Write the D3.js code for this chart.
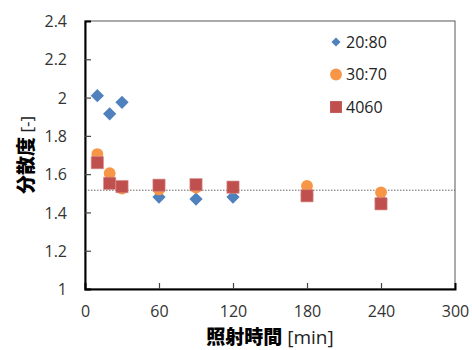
<!DOCTYPE html>
<html><head><meta charset="utf-8">
<script src="https://cdn.jsdelivr.net/npm/d3@7/dist/d3.min.js"></script>
<style>body{margin:0;background:#fff}svg{display:block}</style>
</head><body>
<svg id="c" width="472" height="350"></svg>
<script>
const times = [10, 20, 30, 60, 90, 120, 180, 240];
const s2080 = [2.01, 1.915, 1.975, 1.48, 1.47, 1.48, 1.49, 1.465];
const s3070 = [1.705, 1.605, 1.525, 1.52, 1.53, 1.53, 1.538, 1.505];
const s4060 = [1.66, 1.552, 1.535, 1.542, 1.545, 1.532, 1.487, 1.445];
const seriesNames = ["20:80", "30:70", "4060"];
const refLine = 1.516;
const xTicks = [0, 60, 120, 180, 240, 300];
const yTicks = [1, 1.2, 1.4, 1.6, 1.8, 2, 2.2, 2.4];

const svg = d3.select("#c");
const L = 85, R = 455, T = 21, B = 289;
const x = d3.scaleLinear().domain([0, 300]).range([L, R]);
const y = d3.scaleLinear().domain([1, 2.4]).range([B, T]);
const font = "'Open Sans','Noto Sans',sans-serif";
const colors = ["#4F81BD", "#F79646", "#C0504D"];

svg.append("rect").attr("x", L).attr("y", T).attr("width", R - L).attr("height", B - T)
  .attr("fill", "none").attr("stroke", "#595959").attr("stroke-width", 1);

svg.append("line").attr("x1", L).attr("x2", R).attr("y1", y(refLine)).attr("y2", y(refLine))
  .attr("stroke", "#444").attr("stroke-width", 0.8).attr("stroke-dasharray", "1.5,1.5");

const yAxis = d3.axisLeft(y).tickValues(yTicks).tickSize(-6).tickPadding(18)
  .tickFormat(d => d3.format("~g")(d));
const gy = svg.append("g").attr("transform", `translate(${L},0)`).call(yAxis);
const xAxis = d3.axisBottom(x).tickValues(xTicks).tickSize(-6).tickPadding(18);
const gx = svg.append("g").attr("transform", `translate(0,${B})`).call(xAxis);
[gy, gx].forEach(g => {
  g.select(".domain").attr("stroke", "#000").attr("stroke-width", 2);
  g.selectAll(".tick line").attr("stroke", "#444").attr("stroke-width", 1.2);
  g.selectAll(".tick text").attr("fill", "#333").style("font-family", font).style("font-size", "16px");
});
gy.selectAll(".tick").filter(d => d === 1 || d === 2.4).select("line").remove();
gx.selectAll(".tick").filter(d => d === 0 || d === 300).select("line").remove();
gy.selectAll(".tick text").attr("dy", "0.35em");
gx.selectAll(".tick text").attr("dy", "0.35em").attr("y", 22);

const sym = [d3.symbolSquare, d3.symbolCircle, d3.symbolSquare];
const sizes = [88, 110, 150];
const rot = [45, 0, 0];
[s2080, s3070, s4060].forEach((vals, i) => {
  svg.append("g").selectAll("path").data(vals).join("path")
    .attr("d", d3.symbol().type(sym[i]).size(sizes[i]))
    .attr("transform", (d, j) => `translate(${x(times[j])},${y(d)}) rotate(${rot[i]})`)
    .attr("fill", colors[i])
    .attr("stroke", i === 2 ? "#d58c8a" : "none").attr("stroke-width", 0.6);
});

const lg = svg.append("g");
seriesNames.forEach((n, i) => {
  const yy = 42 + i * 32.5;
  lg.append("path").attr("d", d3.symbol().type(sym[i]).size([42, 110, 140][i]))
    .attr("transform", `translate(336,${yy}) rotate(${rot[i]})`).attr("fill", colors[i]);
  lg.append("text").attr("x", 346).attr("y", yy).attr("dy", "0.36em")
    .style("font-family", font).style("font-size", "16px").attr("fill", "#222").text(n);
});

const xt = svg.append("text").attr("x", 270).attr("y", 344).attr("text-anchor", "middle");
xt.append("tspan").text("照射時間").style("font-family", "'Noto Sans CJK JP'").style("font-weight", "900").style("font-size", "19px");
xt.append("tspan").text(" [min]").style("font-family", font).style("font-size", "19px").attr("fill", "#222");
const yt = svg.append("text").attr("transform", `translate(33,155) rotate(-90)`).attr("text-anchor", "middle");
yt.append("tspan").text("分散度").style("font-family", "'Noto Sans CJK JP'").style("font-weight", "900").style("font-size", "19px");
yt.append("tspan").text(" [-]").style("font-family", font).style("font-size", "17px").attr("fill", "#222");
</script>
</body></html>
